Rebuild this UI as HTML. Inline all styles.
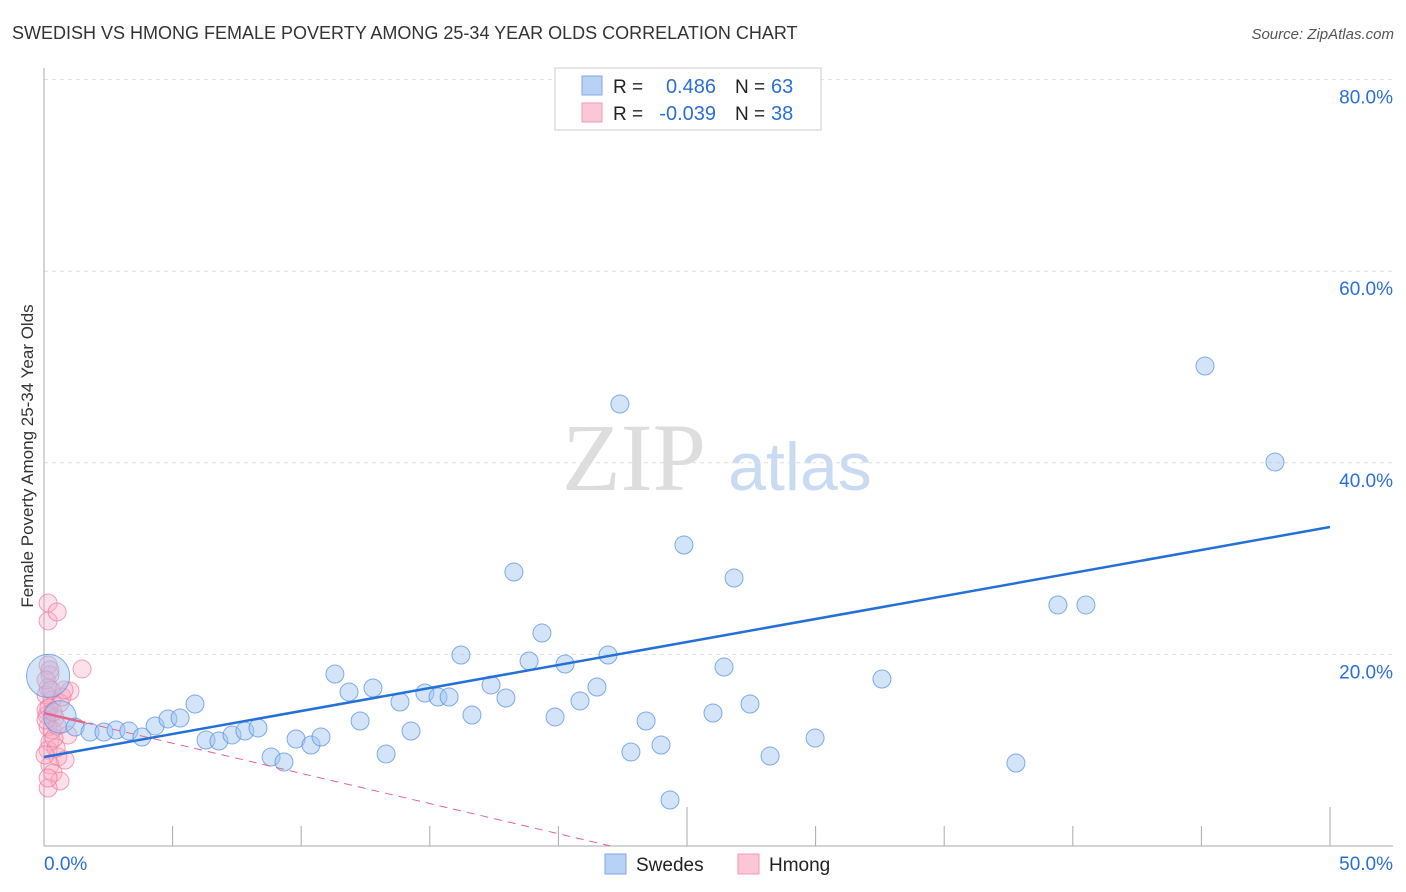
<!DOCTYPE html>
<html><head><meta charset="utf-8"><style>
body{margin:0;background:#fff;font-family:"Liberation Sans",sans-serif;}
svg{display:block}
</style></head><body>
<svg id="chart" width="1406" height="892">
<text x="12" y="39" font-size="18" fill="#333">SWEDISH VS HMONG FEMALE POVERTY AMONG 25-34 YEAR OLDS CORRELATION CHART</text>
<text x="1394" y="39" font-size="15" fill="#555" font-style="italic" text-anchor="end">Source: ZipAtlas.com</text>
<text x="33" y="456" font-size="17" fill="#333" text-anchor="middle" transform="rotate(-90 33 456)">Female Poverty Among 25-34 Year Olds</text>
<g><text x="634" y="490" font-size="96" fill="#ddd" font-family="Liberation Serif,serif" text-anchor="middle">ZIP</text><text x="800" y="490" font-size="68" fill="#c9daf3" text-anchor="middle">atlas</text></g>
<g id="grid"></g><g id="axes"></g><g id="lines"></g><g id="pts"></g>
<g>
<rect x="555" y="68" width="266" height="62" fill="#fff" stroke="#ccc"/>
<rect x="582" y="76" width="20" height="19" fill="#b9d1f5" stroke="#7fa8e6"/>
<rect x="582" y="103" width="20" height="19" fill="#fbc6d5" stroke="#f39ab4"/>
<text x="613" y="93" font-size="19" fill="#222">R =</text><text x="716" y="93" font-size="20" fill="#2b6fd6" text-anchor="end">0.486</text>
<text x="735" y="93" font-size="19" fill="#222">N =</text><text x="771" y="93" font-size="20" fill="#2b6fd6">63</text>
<text x="613" y="120" font-size="19" fill="#222">R =</text><text x="716" y="120" font-size="20" fill="#2b6fd6" text-anchor="end">-0.039</text>
<text x="735" y="120" font-size="19" fill="#222">N =</text><text x="771" y="120" font-size="20" fill="#2b6fd6">38</text>
</g>
<g>
<rect x="605" y="854" width="21" height="20" fill="#b9d1f5" stroke="#7fa8e6"/>
<text x="636" y="871" font-size="19" fill="#222">Swedes</text>
<rect x="738" y="854" width="21" height="20" fill="#fbc6d5" stroke="#f39ab4"/>
<text x="769" y="871" font-size="19" fill="#222">Hmong</text>
</g>
</svg>
<script>
const yTicks=[20,40,60,80];
const yTickLabels=["20.0%","40.0%","60.0%","80.0%"];
const xTicks=[0,5,10,15,20,25,30,35,40,45,50];
const swedesX=[0.16,0.62,1.21,1.79,2.33,2.80,3.30,3.81,4.32,4.82,5.29,5.87,6.30,6.80,7.31,7.81,8.32,8.83,9.33,9.80,10.38,10.77,11.31,11.86,12.29,12.79,13.30,13.84,14.27,14.81,15.32,15.75,16.21,16.64,17.38,17.96,18.27,19.36,18.86,19.87,20.26,20.84,21.50,21.93,22.39,22.82,23.41,23.99,24.34,24.88,26.01,26.44,26.83,27.45,28.23,29.98,32.58,37.79,39.42,40.51,45.14,47.86];
const swedesY=[17.75,13.47,12.42,11.90,11.90,12.11,12.00,11.38,12.53,13.26,13.36,14.82,11.06,10.96,11.59,12.00,12.32,9.29,8.77,11.17,10.54,11.38,17.95,16.08,13.05,16.49,9.60,15.03,12.00,15.97,15.55,15.55,19.94,13.67,16.81,15.45,28.60,22.23,19.31,13.47,19.00,15.14,16.60,19.94,46.14,9.81,13.05,10.54,4.80,31.42,13.88,18.68,27.97,14.82,9.39,11.27,17.43,8.66,25.16,25.16,50.10,40.08];
const swedesSize=[2.4,1.8];
const hmongX=[0.16,0.16,0.51,1.48,0.16,0.23,0.16,1.01,0.31,0.62,0.08,0.43,0.16,0.93,0.23,0.16,0.54,0.82,0.23,0.35,0.62,0.16,0.23,0.08,0.31,0.12,0.47,0.70,0.08,0.19,0.39,0.04,0.51,0.16,0.78,0.08,0.27,0.35];
const hmongY=[25.37,23.49,24.43,18.48,18.89,17.85,16.49,16.18,15.24,14.93,14.20,13.36,12.42,11.59,10.86,10.02,9.29,8.98,8.46,7.62,6.78,6.05,18.37,15.76,12.11,13.67,10.23,15.55,17.33,14.41,11.27,9.50,12.53,7.10,16.28,13.15,16.28,13.99];
const swedesTrend=[9.29,33.3];   // y at x=0, y at x=50
const hmongTrend=[13.88,-0.63]; // intercept, slope
const X=v=>44+v*25.72, Y=v=>846-v*9.58;
const NS="http://www.w3.org/2000/svg";
function mk(t,a,p){const e=document.createElementNS(NS,t);for(const k in a)e.setAttribute(k,a[k]);p.appendChild(e);return e;}
const grid=document.getElementById('grid'),axes=document.getElementById('axes'),lines=document.getElementById('lines'),pts=document.getElementById('pts');
yTicks.forEach((t,i)=>{
 const g=mk('line',{x1:44,x2:1393,y1:Y(t),y2:Y(t),stroke:'#ddd','stroke-dasharray':'4,4'},grid);
 
 
 const l=mk('text',{x:1393,y:Y(t)+24,'font-size':19,fill:'#2b6fd6','text-anchor':'end'},grid);l.textContent=yTickLabels[i];
 
 
});
const ax=mk('line',{x1:44,x2:1393,y1:846,y2:846,stroke:'#aaa'},axes);


const ay=mk('line',{x1:44,x2:44,y1:68,y2:846,stroke:'#aaa'},axes);


xTicks.forEach(t=>{
 const big=(t%25===0);
 const k=mk('line',{x1:X(t),x2:X(t),y1:big?807:826,y2:846,stroke:'#aaa'},axes);
 
 
});
const x0=mk('text',{x:44,y:870,'font-size':19,fill:'#2b6fd6'},axes);x0.textContent='0.0%';


const x1=mk('text',{x:1393,y:870,'font-size':19,fill:'#2b6fd6','text-anchor':'end'},axes);x1.textContent='50.0%';


hmongX.forEach((x,i)=>{
 const c=mk('circle',{cx:X(x),cy:Y(hmongY[i]),r:9,fill:'rgba(248,170,195,0.35)',stroke:'rgba(238,120,155,0.7)','stroke-width':1},pts);
 
 
});
swedesX.forEach((x,i)=>{
 const r=9*(swedesSize[i]||1);
 const c=mk('circle',{cx:X(x),cy:Y(swedesY[i]),r:r,fill:'rgba(160,196,240,0.45)',stroke:'rgba(90,145,225,0.75)','stroke-width':1},pts);
 
 
});
const bl=mk('line',{x1:X(0),y1:Y(swedesTrend[0]),x2:X(50),y2:Y(swedesTrend[1]),stroke:'#2470d8','stroke-width':2.5},pts);


const hy=x=>hmongTrend[0]+hmongTrend[1]*x;
const ps=mk('line',{x1:X(0),y1:Y(hy(0)),x2:X(1.6),y2:Y(hy(1.6)),stroke:'#e8648c','stroke-width':2.5},pts);


const xe=-hmongTrend[0]/hmongTrend[1];
const pd=mk('line',{x1:X(1.6),y1:Y(hy(1.6)),x2:X(xe),y2:Y(hy(xe)),stroke:'#e8648c','stroke-width':1,'stroke-dasharray':'8,6'},pts);


</script>
</body></html>
